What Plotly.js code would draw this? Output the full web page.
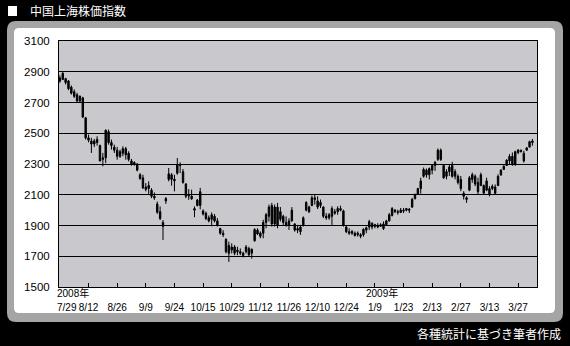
<!DOCTYPE html>
<html><head><meta charset="utf-8">
<script src="https://cdn.plot.ly/plotly-3.0.1.min.js"></script>
<style>html,body{margin:0;padding:0;background:#000;}#chart{width:570px;height:346px;}</style>
</head><body><div id="chart"></div>
<script>
const dates = [
'2008-07-29','2008-07-30','2008-07-31',
'2008-08-01','2008-08-04','2008-08-05','2008-08-06','2008-08-07','2008-08-08','2008-08-11','2008-08-12','2008-08-13','2008-08-14','2008-08-15','2008-08-18','2008-08-19','2008-08-20','2008-08-21','2008-08-22','2008-08-25','2008-08-26','2008-08-27','2008-08-28','2008-08-29',
'2008-09-01','2008-09-02','2008-09-03','2008-09-04','2008-09-05','2008-09-08','2008-09-09','2008-09-10','2008-09-11','2008-09-12','2008-09-16','2008-09-17','2008-09-18','2008-09-19','2008-09-22','2008-09-23','2008-09-24','2008-09-25','2008-09-26',
'2008-10-06','2008-10-07','2008-10-08','2008-10-09','2008-10-10','2008-10-13','2008-10-14','2008-10-15','2008-10-16','2008-10-17','2008-10-20','2008-10-21','2008-10-22','2008-10-23','2008-10-24','2008-10-27','2008-10-28','2008-10-29','2008-10-30','2008-10-31',
'2008-11-03','2008-11-04','2008-11-05','2008-11-06','2008-11-07','2008-11-10','2008-11-11','2008-11-12','2008-11-13','2008-11-14','2008-11-17','2008-11-18','2008-11-19','2008-11-20','2008-11-21','2008-11-24','2008-11-25','2008-11-26','2008-11-27','2008-11-28',
'2008-12-01','2008-12-02','2008-12-03','2008-12-04','2008-12-05','2008-12-08','2008-12-09','2008-12-10','2008-12-11','2008-12-12','2008-12-15','2008-12-16','2008-12-17','2008-12-18','2008-12-19','2008-12-22','2008-12-23','2008-12-24','2008-12-25','2008-12-26','2008-12-29','2008-12-30','2008-12-31',
'2009-01-05','2009-01-06','2009-01-07','2009-01-08','2009-01-09','2009-01-12','2009-01-13','2009-01-14','2009-01-15','2009-01-16','2009-01-19','2009-01-20','2009-01-21','2009-01-22','2009-01-23',
'2009-02-02','2009-02-03','2009-02-04','2009-02-05','2009-02-06','2009-02-09','2009-02-10','2009-02-11','2009-02-12','2009-02-13','2009-02-16','2009-02-17','2009-02-18','2009-02-19','2009-02-20','2009-02-23','2009-02-24','2009-02-25','2009-02-26','2009-02-27',
'2009-03-02','2009-03-03','2009-03-04','2009-03-05','2009-03-06','2009-03-09','2009-03-10','2009-03-11','2009-03-12','2009-03-13','2009-03-16','2009-03-17','2009-03-18','2009-03-19','2009-03-20','2009-03-23','2009-03-24','2009-03-25','2009-03-26','2009-03-27','2009-03-30','2009-03-31',
'2009-04-01','2009-04-02','2009-04-03'
];
const openV = [2860,2850,2855,2840,2800,2770,2750,2710,2730,2600,2470,2450,2430,2460,2420,2330,2340,2510,2440,2410,2390,2350,2370,2400,2370,2320,2300,2300,2230,2210,2150,2140,2130,2090,2040,1990,1920,2060,2200,2230,2190,2240,2290,2250,2170,2100,2090,2010,2030,2120,1995,1980,1950,1940,1960,1930,1880,1850,1810,1720,1760,1720,1740,1730,1720,1730,1750,1720,1800,1870,1830,1850,1920,1960,2030,1910,2020,1940,1960,1920,1900,1930,1910,1880,1860,1900,2000,2020,2030,2080,2060,2030,2020,1960,1950,1960,1990,1990,2010,1995,1890,1860,1850,1850,1840,1840,1840,1870,1890,1915,1895,1900,1895,1910,1905,1930,1965,2000,1990,1985,2000,2000,2005,2020,2075,2105,2140,2220,2260,2230,2260,2290,2330,2390,2290,2220,2250,2290,2220,2220,2200,2110,2080,2130,2200,2220,2180,2160,2160,2130,2140,2140,2150,2160,2230,2265,2290,2320,2350,2300,2375,2390,2370,2390,2410,2450];
const highV = [2876,2898,2861,2846,2811,2785,2763,2746,2737,2606,2491,2470,2463,2480,2426,2372,2524,2524,2459,2426,2411,2393,2415,2411,2383,2333,2317,2306,2241,2230,2176,2187,2143,2115,2056,2024,1935,2085,2274,2241,2230,2339,2311,2267,2176,2137,2133,2024,2072,2145,2005,1990,1965,1985,1975,1948,1885,1870,1817,1795,1784,1773,1762,1751,1729,1773,1762,1751,1882,1882,1861,1937,1981,2036,2047,2036,2047,2020,1970,1959,1948,2020,1915,1904,1904,1959,2058,2029,2095,2101,2090,2069,2025,1981,1981,2025,2007,2025,2029,2003,1898,1882,1871,1861,1861,1850,1882,1893,1937,1920,1911,1915,1915,1926,1937,1981,2020,2007,2003,2014,2014,2014,2014,2080,2108,2145,2211,2277,2271,2277,2299,2320,2401,2401,2299,2266,2299,2314,2266,2233,2222,2123,2090,2222,2244,2233,2211,2244,2167,2211,2156,2167,2167,2233,2266,2292,2331,2364,2375,2386,2397,2393,2386,2408,2452,2463];
const lowV = [2828,2846,2817,2780,2752,2730,2698,2702,2600,2459,2441,2372,2411,2420,2317,2285,2306,2426,2394,2372,2328,2339,2350,2328,2317,2289,2289,2252,2198,2137,2122,2106,2078,2067,1976,1935,1806,2041,2187,2159,2122,2230,2241,2172,2078,2067,2067,1954,2024,2005,1965,1935,1920,1895,1920,1893,1840,1825,1718,1663,1718,1707,1707,1707,1692,1718,1696,1685,1795,1839,1817,1817,1882,1926,1893,1893,1882,1926,1904,1893,1871,1926,1860,1850,1839,1893,1992,1981,2025,2036,2007,2014,1948,1937,1937,1904,1970,1970,1992,1893,1850,1839,1839,1828,1828,1817,1828,1850,1871,1875,1882,1882,1893,1871,1904,1926,1959,1981,1970,1981,1981,1992,1981,2014,2069,2101,2108,2211,2211,2200,2233,2255,2320,2320,2204,2200,2222,2211,2200,2167,2123,2069,2047,2123,2178,2156,2101,2156,2101,2123,2090,2130,2101,2156,2222,2261,2288,2299,2288,2288,2364,2375,2309,2386,2408,2419];
const closeV = [2840,2890,2830,2790,2760,2740,2710,2740,2605,2470,2455,2430,2450,2440,2320,2340,2520,2440,2420,2390,2350,2380,2400,2360,2330,2300,2310,2260,2205,2145,2135,2160,2090,2080,1986,1945,1895,2075,2236,2200,2201,2297,2293,2180,2090,2092,2074,2000,2065,2030,1975,1945,1930,1970,1930,1900,1850,1840,1730,1770,1740,1760,1730,1720,1705,1760,1710,1745,1874,1845,1850,1920,1970,2020,1910,2020,1900,1990,1920,1900,1930,2000,1870,1870,1890,1950,2050,1990,2080,2070,2020,2050,1960,1950,1970,2010,1980,2010,2000,1900,1860,1850,1860,1835,1850,1830,1875,1885,1925,1890,1905,1890,1905,1880,1930,1970,2010,1990,1985,2000,1995,2010,2000,2070,2100,2140,2190,2265,2230,2270,2290,2310,2390,2330,2210,2250,2280,2220,2250,2180,2140,2090,2070,2210,2230,2170,2120,2230,2110,2190,2100,2155,2110,2220,2260,2285,2325,2350,2300,2380,2390,2380,2320,2405,2445,2440];
const tickDates = ['2008-07-29','2008-08-12','2008-08-26','2008-09-09','2008-09-24','2008-10-15','2008-10-29','2008-11-12','2008-11-26','2008-12-10','2008-12-24','2009-01-09','2009-01-23','2009-02-13','2009-02-27','2009-03-13','2009-03-27'];
const tickLabels = ['','8/12','8/26','9/9','9/24','10/15','10/29','11/12','11/26','12/10','12/24','1/9','1/23','2/13','2/27','3/13','3/27'];
const firstLabel = '7/29';
const yearLabels = ['2008年','2009年'];
const yearDates = ['2008-07-29','2009-01-09'];
const titleText = '中国上海株価指数';
const sourceText = '各種統計に基づき筆者作成';

// pixel -> paper helpers (plot area: x 59..537, y 41..287)
const L=59, R=537, T=41, B=287;
const X = p => (p-L)/(R-L), Y = p => (B-p)/(B-T);
function rr(x0,y0,x1,y1,r){
  return `M${X(x0+r)},${Y(y0)} L${X(x1-r)},${Y(y0)} Q${X(x1)},${Y(y0)} ${X(x1)},${Y(y0+r)} L${X(x1)},${Y(y1-r)} Q${X(x1)},${Y(y1)} ${X(x1-r)},${Y(y1)} L${X(x0+r)},${Y(y1)} Q${X(x0)},${Y(y1)} ${X(x0)},${Y(y1-r)} L${X(x0)},${Y(y0+r)} Q${X(x0)},${Y(y0)} ${X(x0+r)},${Y(y0)} Z`;
}
const numFont = 'Liberation Sans, Arial, Noto Sans CJK JP, sans-serif';
const jpFont = 'Noto Sans CJK JP, sans-serif';

const trace = {
  type:'candlestick', x:dates, open:openV, high:highV, low:lowV, close:closeV,
  increasing:{line:{color:'#000',width:1}, fillcolor:'#000'},
  decreasing:{line:{color:'#000',width:1}, fillcolor:'#000'},
  whiskerwidth:0, hoverinfo:'skip', showlegend:false
};

const layout = {
  width:570, height:346, autosize:false,
  margin:{l:L, r:570-R, t:T, b:346-B, pad:0},
  paper_bgcolor:'#000', plot_bgcolor:'rgba(0,0,0,0)',
  showlegend:false,
  xaxis:{type:'category', range:[-0.31,166.6], tickvals:tickDates, ticktext:tickLabels,
    ticks:'inside', ticklen:4, tickcolor:'#000', tickwidth:1,
    showgrid:false, showline:true, linecolor:'#000', linewidth:1, mirror:true,
    tickfont:{size:10, color:'#000', family:numFont}, ticklabelstandoff:11, tickangle:0,
    rangeslider:{visible:false}, fixedrange:true},
  yaxis:{range:[1500,3100], tick0:1500, dtick:200, showgrid:true, gridcolor:'#000', gridwidth:1,
    showline:true, linecolor:'#000', linewidth:1, mirror:true, ticks:'', zeroline:false,
    tickfont:{size:11.5, color:'#000', family:numFont}, ticklabelstandoff:6, fixedrange:true},
  shapes:[
    {type:'path', xref:'paper', yref:'paper', path:rr(7,21,563,322,9), fillcolor:'#a5a5a5', line:{width:0}, layer:'below'},
    {type:'path', xref:'paper', yref:'paper', path:rr(14,28,555,313,5), fillcolor:'#ffffff', line:{width:0}, layer:'below'},
    {type:'rect', xref:'paper', yref:'paper', x0:0, x1:1, y0:0, y1:1, fillcolor:'#c8c8cd', line:{width:0}, layer:'below'},
    {type:'rect', xref:'paper', yref:'paper', x0:X(8), x1:X(17), y0:Y(16), y1:Y(6), fillcolor:'#ffffff', line:{width:0}, layer:'above'}
  ],
  annotations:[
    {xref:'paper', yref:'paper', x:X(28), y:Y(11), xanchor:'left', yanchor:'middle', text:titleText, showarrow:false, font:{size:12, color:'#fff', family:jpFont}},
    {xref:'paper', yref:'paper', x:X(563), y:Y(333), xanchor:'right', yanchor:'middle', text:sourceText, showarrow:false, font:{size:12, color:'#fff', family:jpFont}},
    {xref:'x', yref:'paper', x:yearDates[0], xshift:-4, y:Y(300), xanchor:'left', yanchor:'bottom', borderpad:0, text:yearLabels[0], showarrow:false, font:{size:10, color:'#000', family:numFont}},
    {xref:'x', yref:'paper', x:yearDates[1], xshift:-10, y:Y(300), xanchor:'left', yanchor:'bottom', borderpad:0, text:yearLabels[1], showarrow:false, font:{size:10, color:'#000', family:numFont}},
    {xref:'x', yref:'paper', x:tickDates[0], xshift:-4, y:Y(301), xanchor:'left', yanchor:'top', borderpad:0, text:firstLabel, showarrow:false, font:{size:10, color:'#000', family:numFont}}
  ]
};
Plotly.newPlot('chart', [trace], layout, {staticPlot:true, displayModeBar:false});
</script></body></html>
